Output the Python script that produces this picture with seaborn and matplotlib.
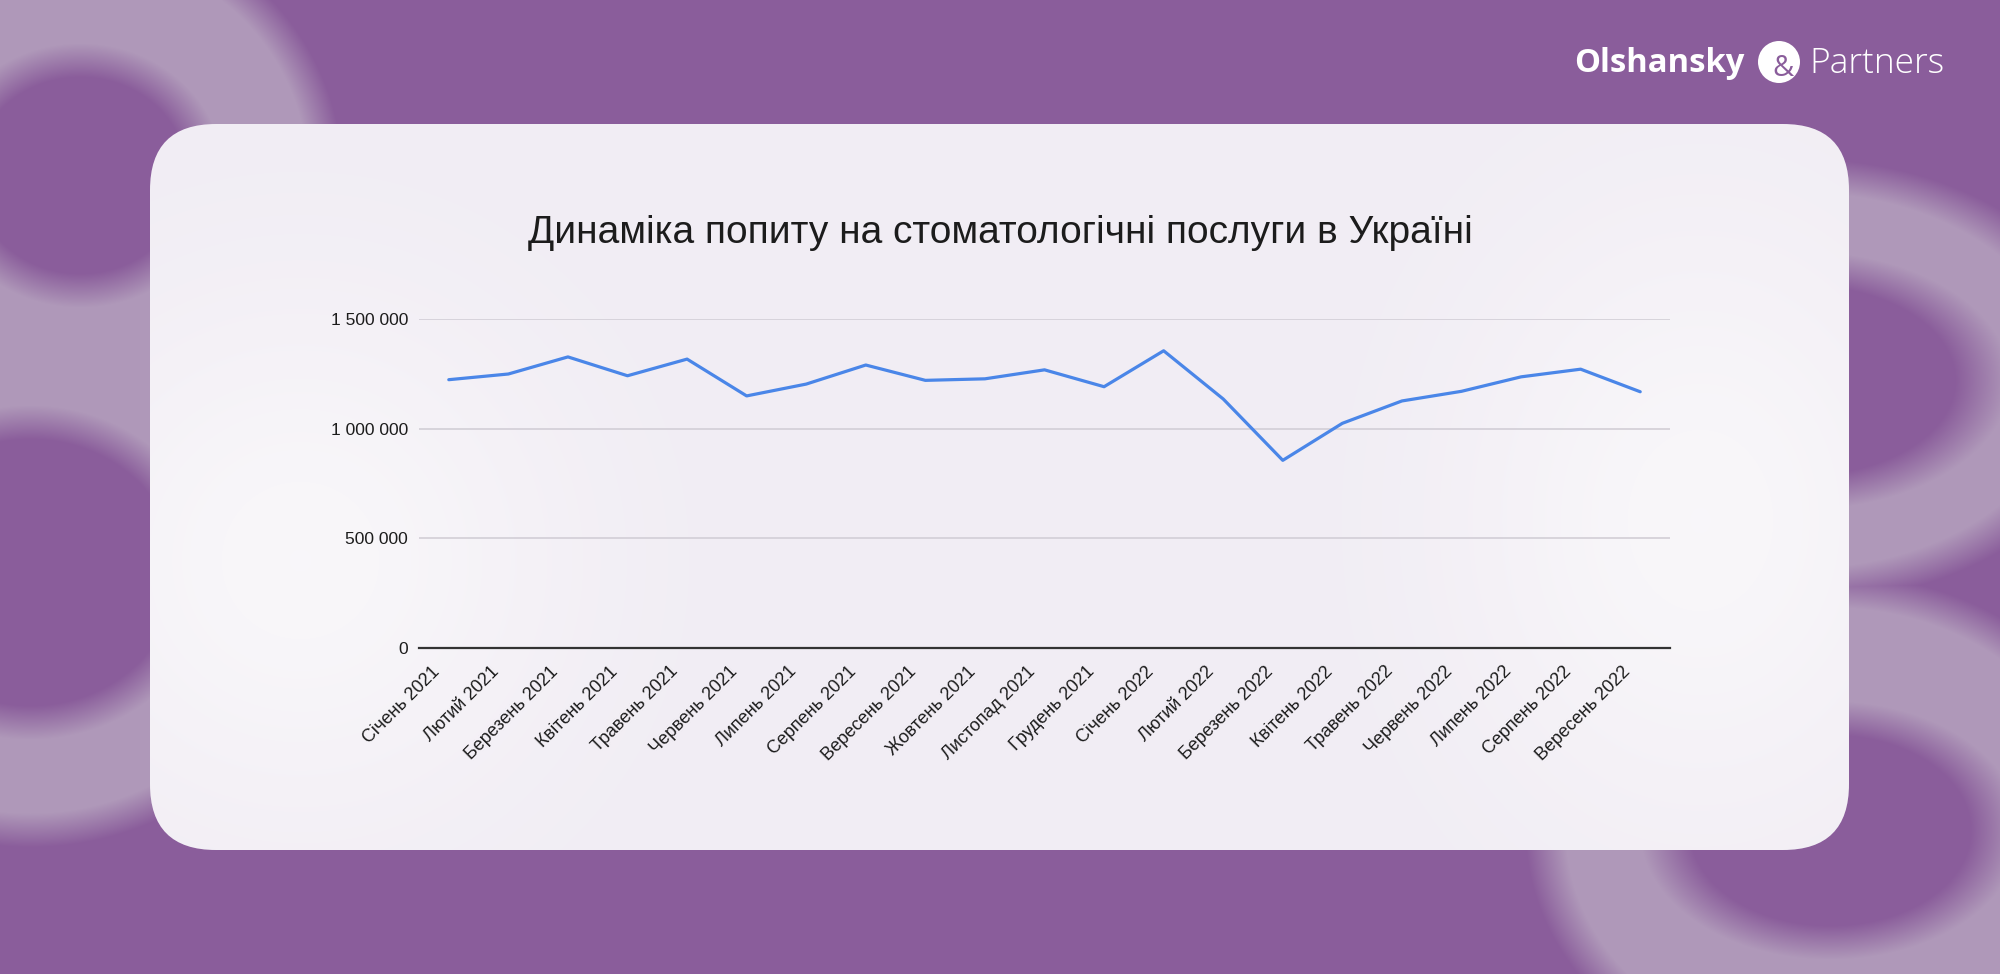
import numpy as np
import pandas as pd
import matplotlib
matplotlib.use("Agg")
import matplotlib.pyplot as plt
import seaborn as sns
from matplotlib.patches import FancyBboxPatch, Circle
from matplotlib.ticker import FuncFormatter
import matplotlib.transforms as mtransforms

# ---------------- data ----------------
months = ["Січень 2021", "Лютий 2021", "Березень 2021", "Квітень 2021",
          "Травень 2021", "Червень 2021", "Липень 2021", "Серпень 2021",
          "Вересень 2021", "Жовтень 2021", "Листопад 2021", "Грудень 2021",
          "Січень 2022", "Лютий 2022", "Березень 2022", "Квітень 2022",
          "Травень 2022", "Червень 2022", "Липень 2022", "Серпень 2022",
          "Вересень 2022"]
demand = [1223000, 1249000, 1327000, 1241000, 1317000, 1149000, 1203000,
          1290000, 1220000, 1227000, 1268000, 1191000, 1355000, 1135000,
          855000, 1024000, 1126000, 1170000, 1236000, 1271000, 1168000]
y_ticks = [0, 500000, 1000000, 1500000]
title = "Динаміка попиту на стоматологічні послуги в Україні"
logo_left = "Olshansky"
logo_amp = "&"
logo_right = "Partners"

# ---------------- style ----------------
sns.set_theme(style="white")
plt.rcParams['font.family'] = ['Liberation Sans', 'DejaVu Sans']

PURPLE = np.array([138, 93, 155]) / 255.0
LIGHT = np.array([175, 152, 185]) / 255.0
CARD = "#F1EDF4"
LINE = "#4A86E8"

W, H = 2000, 974
fig = plt.figure(figsize=(20, 9.74), dpi=100)

# ---------------- decorative background ----------------
bg = fig.add_axes([0, 0, 1, 1])
yy, xx = np.mgrid[0:H, 0:W].astype(float)


def inside(cx, cy, a, b, soft):
    d = np.sqrt(((xx - cx) / a) ** 2 + ((yy - cy) / b) ** 2)
    sd = (d - 1.0) * min(a, b)
    return np.clip(0.5 - sd / soft, 0, 1)


def ring(cx, cy, ai, bi, ao, bo, soft=34):
    return np.minimum(inside(cx, cy, ao, bo, soft), 1 - inside(cx, cy, ai, bi, soft))


mask = np.zeros((H, W))
for spec in [(80, 175, 125, 115, 245, 240),
             (30, 572, 165, 150, 275, 258),
             (1800, 380, 182, 112, 290, 205),
             (1830, 830, 165, 112, 285, 240)]:
    mask = np.maximum(mask, ring(*spec))
img = PURPLE[None, None, :] * (1 - mask[..., None]) + LIGHT[None, None, :] * mask[..., None]
bg.imshow(img, extent=(0, W, H, 0), aspect='auto', interpolation='bilinear', zorder=0)

card = FancyBboxPatch((150, 124), 1699, 726,
                      boxstyle="round,pad=0,rounding_size=66",
                      fc=CARD, ec='none', zorder=1)
bg.add_patch(card)

# soft whitish glow inside the card
glow = np.exp(-(((xx - 300) / 260) ** 2 + ((yy - 560) / 260) ** 2)) \
    + np.exp(-(((xx - 1700) / 240) ** 2 + ((yy - 520) / 300) ** 2))
glow = np.clip(glow, 0, 1) * 0.55
rgba = np.ones((H, W, 4))
rgba[..., 3] = glow
gim = bg.imshow(rgba, extent=(0, W, H, 0), aspect='auto', interpolation='bilinear', zorder=1.5)
gim.set_clip_path(card)

# logo
bg.text(1574, 64, logo_left, ha='left', va='center', fontsize=23.6,
        fontweight='bold', color='white', family=['Open Sans', 'DejaVu Sans'], zorder=3)
bg.add_patch(Circle((1779, 62), 21, fc='white', ec='none', zorder=3))
bg.text(1783, 68, logo_amp, ha='center', va='center', fontsize=21,
        color='#8A5D9B', family=['Open Sans', 'DejaVu Sans'], zorder=4)
bg.text(1809, 64, logo_right, ha='left', va='center', fontsize=25.5,
        fontweight='light', color='white', family=['Open Sans', 'DejaVu Sans'], zorder=3)

bg.set_xlim(0, W)
bg.set_ylim(H, 0)
bg.axis('off')

# ---------------- title ----------------
fig.text(0.5, 1 - 233 / H, title, ha='center', va='center', fontsize=28, color='#1c1c1c')

# ---------------- chart ----------------
ax = fig.add_axes([419 / W, 1 - 647.7 / H, (1670 - 419) / W, (647.7 - 319) / H])
ax.set_facecolor('none')
df = pd.DataFrame({"month": months, "value": demand})
sns.lineplot(data=df, x="month", y="value", sort=False, color=LINE, lw=2.3, ax=ax, zorder=3)

ax.set_xlim(-0.5, len(months) - 0.5)
ax.set_ylim(0, max(y_ticks))
ax.set_yticks(y_ticks)
ax.yaxis.set_major_formatter(FuncFormatter(lambda v, p: f"{int(v):,}".replace(",", " ")))
ax.grid(axis='y', color='#D2CED6', lw=1.2)
ax.grid(axis='x', visible=False)
ax.set_axisbelow(True)
for s in ['left', 'right', 'top']:
    ax.spines[s].set_visible(False)
ax.spines['bottom'].set_color('#333333')
ax.spines['bottom'].set_linewidth(1.6)
ax.spines['bottom'].set_zorder(4)

ax.set_xticks(range(len(months)))
ax.tick_params(axis='x', length=0, pad=11)
ax.tick_params(axis='y', length=0, pad=8, labelsize=12.5, labelcolor='#1c1c1c')
ax.set_xticklabels(months, rotation=45, ha='right', va='top', rotation_mode='anchor',
                   fontsize=13, color='#1c1c1c')
ax.set_xlabel("")
ax.set_ylabel("")

# shift the slanted labels a little to the left, as in the original
offset = mtransforms.ScaledTranslation(-18 / 100, 0, fig.dpi_scale_trans)
for tick in ax.xaxis.get_major_ticks():
    tick.label1.set_transform(tick.label1.get_transform() + offset)

fig.savefig("out.png", dpi=100)
